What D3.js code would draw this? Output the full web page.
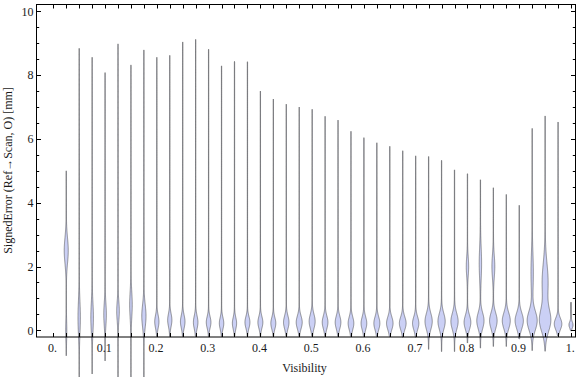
<!DOCTYPE html>
<html><head><meta charset="utf-8">
<script src="https://cdn.jsdelivr.net/npm/d3@7"></script>
<style>body{margin:0;background:#fff}svg{display:block}</style>
</head><body>
<svg id="c" width="576" height="377"></svg>
<script>
// ---- data ----
const visibility = [0.025,0.05,0.075,0.1,0.125,0.15,0.175,0.2,0.225,0.25,0.275,0.3,0.325,0.35,0.375,0.4,0.425,0.45,0.475,0.5,
  0.525,0.55,0.575,0.6,0.625,0.65,0.675,0.7,0.725,0.75,0.775,0.8,0.825,0.85,0.875,0.9,0.925,0.95,0.975,1.0];
const maxError = [5.0,8.84,8.56,8.08,8.98,8.32,8.79,8.56,8.62,9.04,9.12,8.81,8.29,8.43,8.42,7.50,7.25,7.09,7.00,6.93,
  6.71,6.59,6.24,6.04,5.88,5.77,5.63,5.47,5.45,5.33,5.03,4.91,4.72,4.47,4.26,3.92,6.33,6.72,6.53,0.88];
const minError = [-0.80,-1.6,-1.37,-0.96,-1.6,-1.6,-1.6,-0.2,-0.2,-0.2,-0.2,-0.2,-0.2,-0.2,-0.2,-0.2,-0.2,-0.2,-0.2,-0.2,
  -0.2,-0.2,-0.2,-0.2,-0.2,-0.2,-0.22,-0.22,-0.6,-0.67,-0.67,-0.4,-0.56,-0.51,-0.51,-0.27,-0.64,-0.66,-0.18,-0.02];
// main density bump: mode, spread, relative density
const mainMode = [0.0,0.4,0.4,0.5,0.6,0.8,0.45,0.27,0.32,0.27,0.25,0.25,0.22,0.22,0.25,0.25,0.22,0.25,0.25,0.28,
  0.25,0.25,0.22,0.22,0.22,0.22,0.22,0.22,0.28,0.28,0.28,0.25,0.3,0.3,0.3,0.3,0.3,0.3,0.2,0.17];
const mainSpread = [0.3,0.5,0.45,0.35,0.3,0.4,0.35,0.2,0.2,0.2,0.2,0.18,0.18,0.18,0.18,0.18,0.18,0.2,0.2,0.22,
  0.2,0.2,0.2,0.2,0.2,0.2,0.2,0.2,0.25,0.25,0.25,0.22,0.25,0.25,0.25,0.25,0.3,0.35,0.18,0.1];
const mainDensity = [0.08,0.2,0.22,0.22,0.22,0.22,0.38,0.38,0.38,0.41,0.41,0.42,0.40,0.38,0.45,0.45,0.45,0.5,0.55,0.55,
  0.52,0.52,0.52,0.52,0.55,0.6,0.62,0.58,0.67,0.67,0.67,0.62,0.67,0.7,0.74,0.77,0.93,1.0,0.7,0.36];
// secondary density bump (0 = none)
const secondMode = [2.5,0,0,0,0,0,0,0,0,0,0,0,0,0,0,0,0,0,0,0,
  0,0,0,0,0,0,0,0,0,0,0,2.0,2.1,2.0,0,0,1.8,1.5,0,0];
const secondSpread = [0.4,0,0,0,0,0,0,0,0,0,0,0,0,0,0,0,0,0,0,0,
  0,0,0,0,0,0,0,0,0,0,0,0.3,0.5,0.35,0,0,0.6,0.6,0,0];
const secondDensity = [0.36,0,0,0,0,0,0,0,0,0,0,0,0,0,0,0,0,0,0,0,
  0,0,0,0,0,0,0,0,0,0,0,0.2,0.2,0.25,0,0,0.2,0.55,0,0];

const xTickValues = [0,0.1,0.2,0.3,0.4,0.5,0.6,0.7,0.8,0.9,1.0];
const xTickLabels = ["0.","0.1","0.2","0.3","0.4","0.5","0.6","0.7","0.8","0.9","1."];
const yTickValues = [0,2,4,6,8,10];
const yTickLabels = ["0","2","4","6","8","10"];

// ---- layout ----
const svg = d3.select("#c");
const L = 36.5, R = 575.5, T = 4.5, B = 337;
const x = d3.scaleLinear([0,1],[53.3,571]);
const y = d3.scaleLinear([0,10],[330.3,11.3]);
const maxHalf = 5.2, floorHalf = 0.15;
const FONT = "'Liberation Serif','Times New Roman',serif";

// violins
const gauss = (v,m,s) => Math.exp(-0.5*((v-m)/s)*((v-m)/s));
const area = d3.area().y(d=>d.py).x0(d=>d.cx-d.hw).x1(d=>d.cx+d.hw);
const gV = svg.append("g");
visibility.forEach((p,i)=>{
  const cx = x(p), lo = minError[i], hi = maxError[i];
  const n = 400;
  const pts = d3.range(n+1).map(j=>{
    const v = lo + (hi-lo)*j/n;
    let dens = mainDensity[i]*gauss(v,mainMode[i],mainSpread[i]);
    if (secondDensity[i]>0) dens += secondDensity[i]*gauss(v,secondMode[i],secondSpread[i]);
    let hw = floorHalf + maxHalf*dens;
    if (j===0||j===n) hw = 0;
    return {py:y(v), cx, hw};
  });
  gV.append("path").attr("d",area(pts))
    .attr("fill","rgb(203,208,245)")
    .attr("stroke","rgb(60,60,60)").attr("stroke-opacity",0.65)
    .attr("stroke-width",0.8).attr("stroke-linejoin","round");
});

// frame
svg.append("rect").attr("x",L).attr("y",T).attr("width",R-L).attr("height",B-T)
  .attr("fill","none").attr("stroke","#000").attr("stroke-width",1);

// x ticks (every 0.025, inward, bottom and top)
const xMinor = d3.range(0,41).map(k=>k/40);
const gT = svg.append("g").attr("stroke","#000").attr("stroke-width",1);
xMinor.forEach(v=>{
  const px = Math.round(x(v))+0.5;
  gT.append("line").attr("x1",px).attr("x2",px).attr("y1",B).attr("y2",B-4);
  gT.append("line").attr("x1",px).attr("x2",px).attr("y1",T).attr("y2",T+4);
});
// y ticks every 0.5, major every 2
d3.range(0,21).map(k=>k/2).forEach(v=>{
  const py = Math.round(y(v))+0.5;
  const len = (v%2===0)?4.5:2.7;
  gT.append("line").attr("x1",L).attr("x2",L+len).attr("y1",py).attr("y2",py);
  gT.append("line").attr("x1",R).attr("x2",R-len).attr("y1",py).attr("y2",py);
});

// tick labels
const gL = svg.append("g").attr("font-family",FONT).attr("font-size",12).attr("fill","#1a1a1a");
xTickValues.forEach((v,i)=>{
  gL.append("text").attr("x",x(v)-0.8).attr("y",351.7).attr("text-anchor","middle").text(xTickLabels[i]);
});
yTickValues.forEach((v,i)=>{
  gL.append("text").attr("x",33.5).attr("y",y(v)+4.2).attr("text-anchor","end").text(yTickLabels[i]);
});

// axis titles
gL.append("text").attr("x",304.5).attr("y",371.5).attr("text-anchor","middle").text("Visibility");
gL.append("text").attr("transform","translate(11.5,170.5) rotate(-90)").attr("text-anchor","middle")
  .text("SignedError (Ref→Scan, O) [mm]");
</script>
</body></html>
